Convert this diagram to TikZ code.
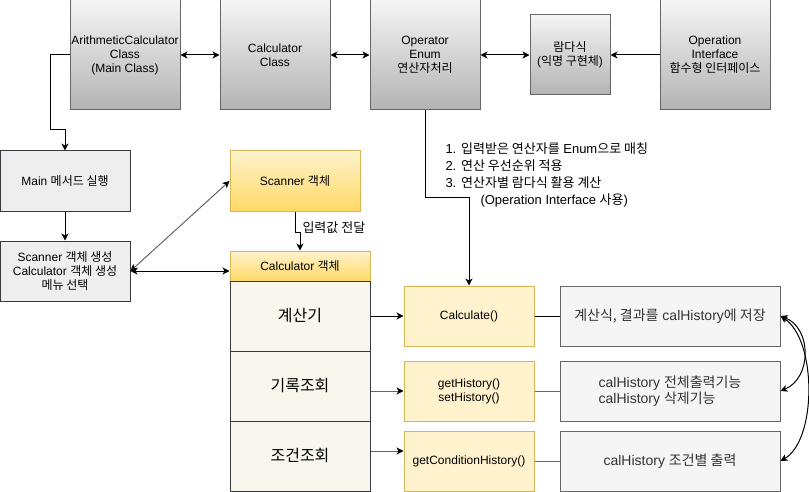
\documentclass[tikz,border=0pt]{standalone}
\usepackage{fontspec}
\setmainfont{Liberation Sans}
\newfontfamily\krfont{Noto Sans CJK KR}
\newcommand\kr[1]{{\krfont #1}}
\usetikzlibrary{arrows.meta}

\definecolor{classline}{HTML}{666666}
\definecolor{classtop}{HTML}{F5F5F5}
\definecolor{classbot}{HTML}{B3B3B3}
\definecolor{darkline}{HTML}{36393D}
\definecolor{mainfill}{HTML}{EEEEEE}
\definecolor{yeltop}{HTML}{FFF2CC}
\definecolor{yelbot}{HTML}{FFD966}
\definecolor{yelline}{HTML}{D6B656}
\definecolor{rowfill}{HTML}{F9F7ED}
\definecolor{notefill}{HTML}{F5F5F5}
\definecolor{notetext}{HTML}{333333}
\definecolor{greyarrow}{HTML}{666666}

\tikzset{
  classbox/.style={draw=classline, top color=classtop, bottom color=classbot,
    minimum width=110pt, minimum height=110pt, align=center, inner sep=0pt,
    font=\fontsize{12}{14}\selectfont},
  flowbox/.style={draw=darkline, fill=mainfill, minimum width=130pt,
    minimum height=60pt, align=center, inner sep=0pt,
    font=\fontsize{12}{14}\selectfont},
  objbox/.style={draw=yelline, top color=yeltop, bottom color=yelbot,
    align=center, inner sep=0pt, font=\fontsize{12}{14}\selectfont},
  rowbox/.style={draw=darkline, fill=rowfill, minimum width=140pt,
    minimum height=70pt, inner sep=0pt, font=\fontsize{16}{19}\selectfont},
  methbox/.style={draw=yelline, fill=yeltop, minimum width=130pt,
    minimum height=60pt, align=center, inner sep=0pt,
    font=\fontsize{12}{14}\selectfont},
  notebox/.style={draw=classline, fill=notefill, text=notetext,
    minimum width=220pt, minimum height=60pt, inner sep=0pt,
    font=\fontsize{14}{16}\selectfont},
  greyline/.style={draw=greyarrow},
}

\begin{document}
\begin{tikzpicture}[x=1pt,y=-1pt,line width=1pt,
  >={Stealth[length=7pt,width=7pt,inset=2pt,color=black]}]
\useasboundingbox (0,0) rectangle (809,492);

% top row
\node[classbox] (arith) at (125,55) {ArithmeticCalculator\\Class\\(Main Class)};
\node[classbox] (calcclass) at (275,55) {Calculator\\Class};
\node[classbox] (oper) at (425,55) {Operator\\Enum\\\kr{연산자처리}};
\node[classbox, minimum width=80pt, minimum height=80pt] (lambda) at (570,55) {\kr{람다식}\\(\kr{익명 구현체})};
\node[classbox] (iface) at (715,55) {Operation\\Interface\\\kr{함수형 인터페이스}};

\draw[<->] (arith) -- (calcclass);
\draw[<->] (calcclass) -- (oper);
\draw[<->] (oper) -- (lambda);
\draw[->] (iface) -- (lambda);

% main flow
\node[flowbox] (main) at (65,181) {Main \kr{메서드 실행}};
\node[flowbox] (scanmake) at (65,271) {Scanner \kr{객체 생성}\\Calculator \kr{객체 생성}\\\kr{메뉴 선택}};
\coordinate (elbow) at (50,130);
\draw[->] (arith.west) -| (elbow) -| (main.north);
\draw[->] (main) -- (scanmake);

% objects
\node[objbox, minimum width=130pt, minimum height=60pt] (scanner) at (295,181) {Scanner \kr{객체}};
\node[objbox, minimum width=140pt, minimum height=30pt] (calcobj) at (300,266) {Calculator \kr{객체}};
\node[rowbox] (rowcalc) at (300,316) {\kr{계산기}};
\node[rowbox] (rowhist) at (300,386) {\kr{기록조회}};
\node[rowbox] (rowcond) at (300,456) {\kr{조건조회}};

\draw[<->, greyline] (scanmake.east) -- (scanner.west);
\draw[<->] (scanmake.east) -- (scanmake.east -| calcobj.west);
\coordinate (jog) at (295,232);
\draw[->] (scanner.south) -- (jog) -| (calcobj.north);
\node[anchor=west, inner sep=0pt, font=\fontsize{13}{15}\selectfont] (passlbl) at (302,228) {\kr{입력값 전달}};

% methods
\node[methbox] (mcalc) at (469,316) {Calculate()};
\node[methbox] (mhist) at (469,391) {getHistory()\\setHistory()};
\node[methbox] (mcond) at (469,461) {getConditionHistory()};

\draw[->] (rowcalc.east) -- (mcalc.west);
\draw[->, greyline] (rowhist.east |- mhist.west) -- (mhist.west);
\draw[->, greyline] ([yshift=5pt]rowcond.east) -- ([yshift=5pt]rowcond.east -| mcond.west);

\coordinate (bend) at (469,198);
\draw[->] (oper.south) |- (bend) -- (mcalc.north);
\node[anchor=north west, align=left, inner sep=0pt, font=\fontsize{13}{17}\selectfont] (steps) at (445,142)
  {1. \kr{입력받은 연산자를} Enum\kr{으로 매칭}\\
   2. \kr{연산 우선순위 적용}\\
   3. \kr{연산자별 람다식 활용 계산}\\
   \hspace*{35pt}(Operation Interface \kr{사용})};

% notes
\node[notebox] (ncalc) at (670,316) {\kr{계산식, 결과를} calHistory\kr{에 저장}};
\node[notebox, align=left] (nhist) at (670,391) {calHistory \kr{전체출력기능}\\calHistory \kr{삭제기능}};
\node[notebox] (ncond) at (670,461) {calHistory \kr{조건별 출력}};

\draw (mcalc) -- (ncalc);
\draw[greyline] (mhist) -- (nhist);
\draw[greyline] (mcond) -- (ncond);

\draw[<->] (ncalc.east) .. controls (812,328) and (812,378) .. (nhist.east);
\draw[<->] (ncalc.east) .. controls (817,340) and (817,440) .. (ncond.east);
\end{tikzpicture}
\end{document}
